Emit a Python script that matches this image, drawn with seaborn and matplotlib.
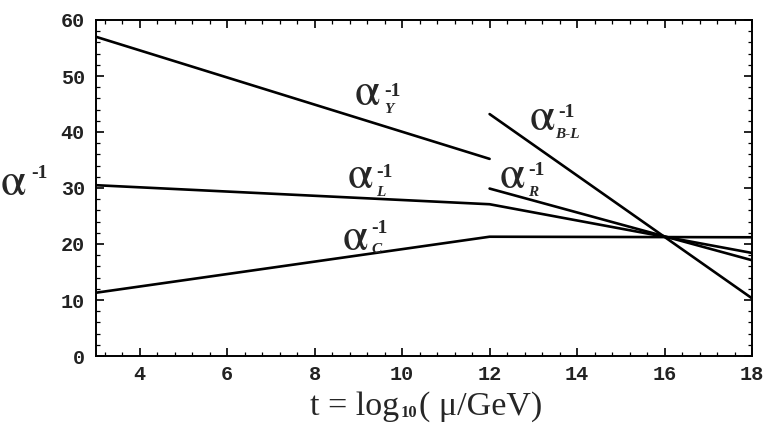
import matplotlib
matplotlib.use("Agg")
import matplotlib.pyplot as plt
import seaborn as sns
import pandas as pd
from matplotlib.ticker import MultipleLocator

# ---- data ----
t_Y = [3, 12]
alpha_Y = [57.0, 35.2]
t_L = [3, 12, 18]
alpha_L = [30.5, 27.1, 18.4]
t_C = [3, 12, 18]
alpha_C = [11.3, 21.3, 21.2]
t_R = [12, 18]
alpha_R = [29.9, 17.1]
t_BL = [12, 18]
alpha_BL = [43.2, 10.3]

series_names = ["Y", "L", "C", "R", "B-L"]
xticks = [4, 6, 8, 10, 12, 14, 16, 18]
yticks = [0, 10, 20, 30, 40, 50, 60]

# label anchor points (data coords, left/baseline of the alpha glyph)
label_pos = {"Y": (8.92, 44.8), "B-L": (12.92, 40.4), "L": (8.76, 30.0),
             "R": (12.24, 30.0), "C": (8.65, 18.9)}

sns.set_theme(style="white")
plt.rcParams["font.family"] = ["Liberation Serif", "DejaVu Sans"]
ALPHA_FONT = ["STIXGeneral", "Liberation Serif", "DejaVu Serif"]

fig = plt.figure(figsize=(7.64, 4.33), dpi=100)
ax = fig.add_axes([96 / 764, 1 - 356 / 433, (752 - 96) / 764, (356 - 20) / 433])

frames = []
for name, t, v in zip(series_names,
                      [t_Y, t_L, t_C, t_R, t_BL],
                      [alpha_Y, alpha_L, alpha_C, alpha_R, alpha_BL]):
    frames.append(pd.DataFrame({"t": t, "a": v, "s": name}))
df = pd.concat(frames, ignore_index=True)

for name in series_names:
    sub = df[df["s"] == name]
    sns.lineplot(data=sub, x="t", y="a", ax=ax, color="black", lw=1.9,
                 sort=False, estimator=None, legend=False)

ax.set_xlim(3, 18)
ax.set_ylim(0, 60)
ax.set_xticks(xticks)
ax.set_yticks(yticks)
ax.xaxis.set_minor_locator(MultipleLocator(0.4))
ax.yaxis.set_minor_locator(MultipleLocator(2))
ax.tick_params(which="both", direction="in", top=True, right=True,
               bottom=True, left=True, color="black")
ax.tick_params(which="major", length=6, width=1.2)
ax.tick_params(which="minor", length=3, width=0.9)
ax.tick_params(axis="x", which="major", pad=6.5)
ax.tick_params(axis="y", which="major", pad=8)
for lab in ax.get_xticklabels() + ax.get_yticklabels():
    lab.set_fontfamily("Liberation Mono")
    lab.set_fontweight("bold")
    lab.set_fontsize(14.5)
    lab.set_color("#222222")
for sp in ax.spines.values():
    sp.set_color("black")
    sp.set_linewidth(1.4)
ax.set_xlabel("")
ax.set_ylabel("")

# curve labels: alpha, superscript -1, subscript
sup_off = {"Y": (29, 9), "B-L": (28, 13), "L": (28, 11), "R": (28, 13), "C": (28, 17)}
sub_off = {"Y": (29, -8), "B-L": (25, -8), "L": (28, -8), "R": (28, -8), "C": (28, -3)}
for name, (x, y) in label_pos.items():
    ax.annotate("α", xy=(x, y), xytext=(0, 0), textcoords="offset pixels",
                fontsize=33, family=ALPHA_FONT, ha="left", va="baseline")
    ax.annotate("-1", xy=(x, y), xytext=sup_off[name], textcoords="offset pixels",
                fontsize=14, family="Liberation Serif", fontweight="bold",
                ha="left", va="baseline")
    ax.annotate(name, xy=(x, y), xytext=sub_off[name], textcoords="offset pixels",
                fontsize=11, family="Liberation Serif", fontweight="bold",
                style="italic", ha="left", va="baseline")

# y-axis label
fig.text(1 / 764, 1 - 195 / 433, "α", fontsize=33, family=ALPHA_FONT,
         ha="left", va="baseline")
fig.text(31 / 764, 1 - 178 / 433, "-1", fontsize=14, family="Liberation Serif",
         fontweight="bold", ha="left", va="baseline")

# x-axis label composed of pieces
renderer = fig.canvas.get_renderer()
xpix, ybase = 310, 415
t1 = fig.text(xpix / 764, 1 - ybase / 433, "t = log", fontsize=24.5,
              family="Liberation Serif", ha="left", va="baseline")
w1 = t1.get_window_extent(renderer).width
t2 = fig.text((xpix + w1 + 1) / 764, 1 - (ybase + 2) / 433, "10", fontsize=12,
              family="Liberation Serif", fontweight="bold", ha="left", va="baseline")
w2 = t2.get_window_extent(renderer).width
fig.text((xpix + w1 + w2 + 3) / 764, 1 - ybase / 433, "( μ/GeV)", fontsize=24.5,
         family="Liberation Serif", ha="left", va="baseline")

fig.savefig("out.png", dpi=100, facecolor="white")
